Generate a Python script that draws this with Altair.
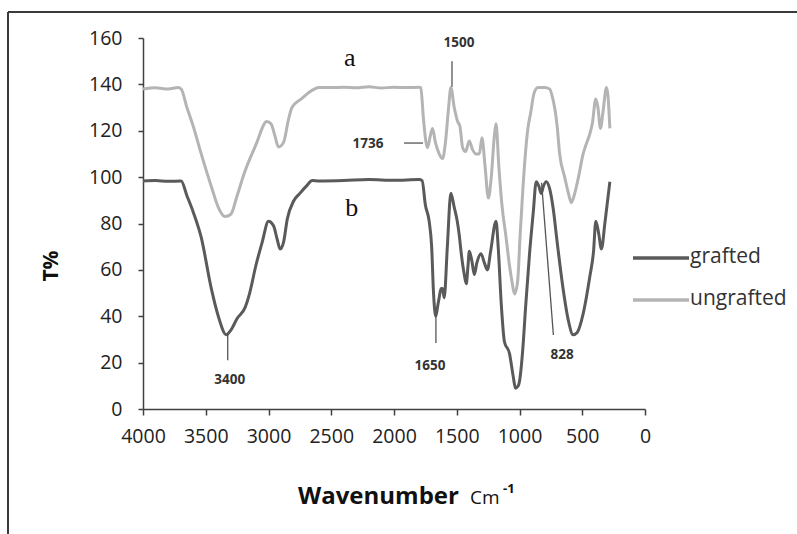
import altair as alt
import pandas as pd

# ---- data ----
ungrafted_wn = [4000, 3900, 3800, 3720, 3696, 3650, 3600, 3536, 3450, 3400, 3347, 3300, 3250, 3187,
                3100, 3013, 2980, 2950, 2920, 2880, 2840, 2813, 2733, 2650, 2600, 2500, 2400, 2300,
                2200, 2100, 2000, 1900, 1800, 1787, 1765, 1745, 1733, 1710, 1693, 1670, 1640, 1613,
                1590, 1565, 1547, 1520, 1493, 1475, 1453, 1430, 1400, 1375, 1347, 1320, 1299, 1275,
                1248, 1225, 1200, 1187, 1165, 1140, 1107, 1080, 1060, 1040, 1015, 995, 973, 950, 933,
                910, 885, 853, 800, 760, 740, 700, 680, 640, 610, 587, 560, 530, 493, 470, 440, 420,
                392, 375, 355, 335, 307, 295, 280]
ungrafted_t = [138, 138.5, 138, 138.6, 138, 130, 122, 110, 95, 87, 83, 84, 92, 102.6,
               114, 124, 123, 118, 113, 115, 125, 130, 134, 137.5, 138.6, 138.6, 138.8, 138.5,
               139, 138.4, 138.8, 138.6, 138.8, 138.6, 125, 115, 112.7, 118, 121, 115, 110, 108,
               115, 130, 138.6, 130, 124, 122, 112.7, 111, 115.6, 112, 110, 110, 117, 105,
               91, 100, 118, 123, 105, 88, 74, 62, 55, 49.6, 55, 75, 95, 112, 121,
               128, 136, 138.6, 138.6, 138, 135, 122, 110, 100, 93, 89, 93, 100, 110, 114, 118.6, 123,
               133.7, 130, 121, 128, 138.6, 135, 121]

grafted_wn = [4000, 3900, 3800, 3696, 3650, 3600, 3536, 3456, 3400, 3336, 3300, 3250, 3187, 3150,
              3100, 3050, 3000, 2960, 2930, 2907, 2880, 2850, 2800, 2750, 2700, 2650, 2600, 2400,
              2200, 2000, 1800, 1776, 1750, 1720, 1700, 1685, 1667, 1650, 1640, 1625, 1614, 1600,
              1575, 1547, 1520, 1496, 1480, 1464, 1440, 1424, 1410, 1400, 1380, 1360, 1340, 1307,
              1280, 1256, 1230, 1187, 1170, 1145, 1120, 1080, 1050, 1032, 1010, 1000, 975, 950,
              920, 890, 867, 845, 827, 810, 787, 760, 733, 700, 653, 610, 573, 540, 493, 440, 410,
              392, 370, 347, 320, 280]
grafted_t = [98.3, 98.5, 98.2, 98.3, 92, 85, 74, 52, 40, 32, 34, 39, 43.7, 50,
             62, 72, 81, 79, 73, 69, 72, 82, 89.7, 93, 96, 98.5, 98.3, 98.5,
             99, 98.6, 99, 98.5, 88, 81, 70, 50, 40, 45, 48, 52, 52, 48,
             70, 93, 87, 81, 75, 67, 58, 54, 62, 68, 64, 58, 63, 67,
             63, 60, 68, 81, 70, 45, 29, 24, 14, 9, 10, 12, 25, 45,
             67, 85, 98, 96, 93, 96, 98, 95, 87, 72, 52, 38, 32, 33, 41, 57, 68,
             81, 76, 69, 80, 98]

series_names = ["grafted", "ungrafted"]
series_colors = ["#5a5a5a", "#b4b4b4"]

x_ticks = [4000, 3500, 3000, 2500, 2000, 1500, 1000, 500, 0]
y_ticks = [0, 20, 40, 60, 80, 100, 120, 140, 160]

# peak labels
peak_text = ["3400", "1650", "828", "1500", "1736"]
peak_text_wn = [3309, 1713, 660, 1482, 2207]
peak_text_t = [12.5, 18.5, 23.3, 158, 114.3]
# leader lines (start, end)
lead_wn = [3325, 1666, 824, 1538, 1920]
lead_t = [32.8, 40.5, 97.6, 150, 114.7]
lead_wn2 = [3325, 1666, 730, 1538, 1769]
lead_t2 = [21, 28.5, 31.9, 139, 114.7]

curve_letters = ["a", "b"]
letter_wn = [2352, 2336]
letter_t = [151.4, 86.7]

# ---- tables ----
df = pd.concat([
    pd.DataFrame({"wn": grafted_wn, "T": grafted_t, "series": "grafted"}),
    pd.DataFrame({"wn": ungrafted_wn, "T": ungrafted_t, "series": "ungrafted"}),
])
peaks = pd.DataFrame({"label": peak_text, "wn": peak_text_wn, "T": peak_text_t})
leads = pd.DataFrame({"wn": lead_wn, "T": lead_t, "wn2": lead_wn2, "T2": lead_t2})
letters = pd.DataFrame({"label": curve_letters, "wn": letter_wn, "T": letter_t})

FONT = "Open Sans"
AX = "#404040"

xscale = alt.Scale(domain=[0, 4000], reverse=True, nice=False, zero=False)
yscale = alt.Scale(domain=[0, 160], nice=False)

x_enc = alt.X("wn:Q", scale=xscale,
              axis=alt.Axis(values=x_ticks, format="d", title=None, grid=False, domainColor=AX,
                            domainWidth=1.5, tickColor=AX, tickWidth=1.5, tickSize=6,
                            labelFont=FONT, labelFontSize=19.5, labelColor="#222",
                            labelPadding=12, labelFlush=False, labelOverlap=False))
y_enc = alt.Y("T:Q", scale=yscale,
              axis=alt.Axis(values=y_ticks, format="d", title=None, grid=False, domainColor=AX,
                            domainWidth=1.5, tickColor=AX, tickWidth=1.5, tickSize=5,
                            labelFont=FONT, labelFontSize=19.5, labelColor="#222",
                            labelPadding=16, labelFlush=False, labelOverlap=False))

lines = alt.Chart(df).mark_line(strokeWidth=3, strokeJoin="round", interpolate="monotone").encode(
    x=x_enc, y=y_enc,
    color=alt.Color("series:N", scale=alt.Scale(domain=series_names, range=series_colors),
                    legend=None),
    order=alt.Order("wn:Q"),
)

lead_rules = alt.Chart(leads).mark_rule(color="#555555", strokeWidth=1.3).encode(
    x="wn:Q", y="T:Q", x2="wn2:Q", y2="T2:Q")

peak_labels = alt.Chart(peaks).mark_text(font=FONT, fontSize=13.5, fontWeight="bold",
                                         color="#333333").encode(
    x="wn:Q", y="T:Q", text="label:N")

letter_labels = alt.Chart(letters).mark_text(font="Liberation Serif", fontSize=26,
                                             color="#111111").encode(
    x="wn:Q", y="T:Q", text="label:N")

# legend (manual)
leg_base = alt.Chart(pd.DataFrame({"series": series_names}))
legend_layers = []
for i, (name, col) in enumerate(zip(series_names, series_colors)):
    yy = 220 + 42 * i
    legend_layers.append(
        leg_base.transform_filter(alt.datum.series == name).mark_rule(color=col, strokeWidth=3.5)
        .encode(x=alt.value(490), x2=alt.value(546), y=alt.value(yy)))
    legend_layers.append(
        leg_base.transform_filter(alt.datum.series == name)
        .mark_text(font=FONT, fontSize=21, align="left", baseline="middle", color="#333333")
        .encode(x=alt.value(547), y=alt.value(yy - 1), text="series:N"))

one = leg_base.transform_filter(alt.datum.series == "grafted")

# axis titles
ytitle = one.mark_text(
    font=FONT, fontSize=21, fontWeight="bold", angle=270, color="#111111",
    baseline="middle", align="center").encode(
    x=alt.value(-91), y=alt.value(228), text=alt.value("T%"))
xtitle1 = one.mark_text(
    font=FONT, fontSize=24, fontWeight="bold", color="#111111",
    baseline="alphabetic", align="left").encode(
    x=alt.value(155), y=alt.value(466), text=alt.value("Wavenumber"))
xtitle2 = one.mark_text(
    font=FONT, fontSize=19, color="#111111",
    baseline="alphabetic", align="left").encode(
    x=alt.value(327), y=alt.value(466), text=alt.value("Cm"))
xtitle3 = one.mark_text(
    font=FONT, fontSize=13, fontWeight="bold", color="#111111",
    baseline="alphabetic", align="left").encode(
    x=alt.value(360), y=alt.value(455), text=alt.value("-1"))

# outer frame (top and left edges visible)
frame_top = one.mark_rule(color="#3a3a3a", strokeWidth=2).encode(
    x=alt.value(-135), x2=alt.value(660), y=alt.value(-26))
frame_left = one.mark_rule(color="#3a3a3a", strokeWidth=2).encode(
    x=alt.value(-135), y=alt.value(-26), y2=alt.value(500))

chart = alt.layer(
    lines, lead_rules, peak_labels, letter_labels, *legend_layers,
    ytitle, xtitle1, xtitle2, xtitle3, frame_top, frame_left
).properties(
    width=502, height=371,
    autosize=alt.AutoSizeParams(type="none"),
    padding={"left": 143, "top": 38, "right": 152, "bottom": 125},
    background="white",
).configure_view(stroke=None)

chart.save("out.html", embed_options={"renderer": "svg", "actions": False})
